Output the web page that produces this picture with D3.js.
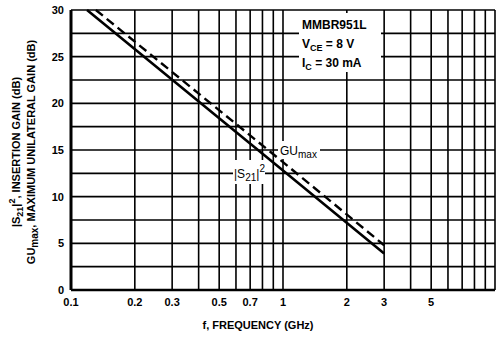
<!DOCTYPE html>
<html>
<head>
<meta charset="utf-8">
<script src="https://cdn.jsdelivr.net/npm/d3@7"></script>
<style>
  body { margin: 0; background: #fff; }
  svg { display: block; }
  text { font-family: "Liberation Sans Narrow", "Arial Narrow", "Liberation Sans", sans-serif; fill: #000; }
</style>
</head>
<body>
<div id="chart"></div>
<script>
// frequency grid (GHz) and labelled ticks
const xGrid = [0.1, 0.2, 0.3, 0.4, 0.5, 0.6, 0.7, 0.8, 0.9, 1, 2, 3, 4, 5, 6, 7, 8, 9, 10];
const xTicks = [0.1, 0.2, 0.3, 0.5, 0.7, 1, 2, 3, 5];
const yGrid = [0, 2.5, 5, 7.5, 10, 12.5, 15, 17.5, 20, 22.5, 25, 27.5, 30];
const yTicks = [0, 5, 10, 15, 20, 25, 30];

// |S21|^2 insertion gain (solid) and GUmax (dashed)
const s21Freq = [0.119, 1, 3];
const s21Gain = [30, 12.8, 3.9];
const guFreq = [0.131, 1, 3];
const guGain = [30, 13.7, 4.8];

const width = 501, height = 338;
const margin = { top: 10, right: 6, bottom: 48, left: 71 };

const svg = d3.select("#chart").append("svg")
    .attr("width", width)
    .attr("height", height);

const x = d3.scaleLog().domain([0.1, 10]).range([margin.left, width - margin.right]);
const y = d3.scaleLinear().domain([0, 30]).range([height - margin.bottom, margin.top]);

// grid
const grid = svg.append("g").attr("stroke", "#000").attr("stroke-width", 1.6);
grid.selectAll(".vx").data(xGrid).enter().append("line")
    .attr("x1", d => x(d)).attr("x2", d => x(d))
    .attr("y1", y(0)).attr("y2", y(30))
    .attr("stroke-width", d => (d === 0.1 ? 3 : 1.6));
grid.selectAll(".hy").data(yGrid).enter().append("line")
    .attr("x1", x(0.1)).attr("x2", x(10))
    .attr("y1", d => y(d)).attr("y2", d => y(d))
    .attr("stroke-width", d => (d === 0 ? 2.4 : 1.6));

// curves
const line = d3.line().x(d => x(d[0])).y(d => y(d[1]));
svg.append("path")
    .datum(s21Freq.map((f, i) => [f, s21Gain[i]]))
    .attr("d", line)
    .attr("fill", "none").attr("stroke", "#000").attr("stroke-width", 2.6);
svg.append("path")
    .datum(guFreq.map((f, i) => [f, guGain[i]]))
    .attr("d", line)
    .attr("fill", "none").attr("stroke", "#000").attr("stroke-width", 2.4)
    .attr("stroke-dasharray", "9,5");

// conditions box (white background hides grid)
svg.append("rect")
    .attr("x", 299).attr("y", 13).attr("width", 82).attr("height", 59)
    .attr("fill", "#fff");
const cond = svg.append("g").attr("font-size", 12).attr("font-weight", "bold");
cond.append("text").attr("x", 302).attr("y", 29).text("MMBR951L");
const vce = cond.append("text").attr("x", 302).attr("y", 48);
vce.append("tspan").text("V");
vce.append("tspan").attr("font-size", 9).attr("dy", 3).text("CE");
vce.append("tspan").attr("dy", -3).text(" = 8 V");
const ic = cond.append("text").attr("x", 302).attr("y", 67);
ic.append("tspan").text("I");
ic.append("tspan").attr("font-size", 9).attr("dy", 3).text("C");
ic.append("tspan").attr("dy", -3).text(" = 30 mA");

// curve labels
svg.append("rect").attr("x", 278).attr("y", 141).attr("width", 42).attr("height", 18).attr("fill", "#fff");
const gu = svg.append("text").attr("x", 280).attr("y", 155).attr("font-size", 12);
gu.append("tspan").text("GU");
gu.append("tspan").attr("font-size", 10).attr("dy", 3).text("max");

svg.append("rect").attr("x", 233).attr("y", 160).attr("width", 32).attr("height", 24).attr("fill", "#fff");
const s21 = svg.append("text").attr("x", 234).attr("y", 178).attr("font-size", 12);
s21.append("tspan").text("|S");
s21.append("tspan").attr("font-size", 10).attr("dy", 3).text("21");
s21.append("tspan").attr("dy", -3).text("|");
s21.append("tspan").attr("font-size", 10).attr("dy", -6).text("2");

// tick labels
svg.append("g").attr("font-size", 11).attr("font-weight", "bold")
    .selectAll("text").data(yTicks).enter().append("text")
    .attr("x", x(0.1) - 7).attr("y", d => y(d) + 4)
    .attr("text-anchor", "end")
    .text(d => d);
svg.append("g").attr("font-size", 11).attr("font-weight", "bold")
    .selectAll("text").data(xTicks).enter().append("text")
    .attr("x", d => x(d)).attr("y", y(0) + 16)
    .attr("text-anchor", "middle")
    .text(d => d);

// axis titles
svg.append("text")
    .attr("x", 258).attr("y", 329)
    .attr("text-anchor", "middle").attr("font-size", 11).attr("font-weight", "bold")
    .text("f, FREQUENCY (GHz)");

const yt1 = svg.append("text")
    .attr("transform", "translate(20,152) rotate(-90)")
    .attr("text-anchor", "middle").attr("font-size", 11).attr("font-weight", "bold");
yt1.append("tspan").text("|S");
yt1.append("tspan").attr("font-size", 9).attr("dy", 3).text("21");
yt1.append("tspan").attr("dy", -3).text("|");
yt1.append("tspan").attr("font-size", 9).attr("dy", -5).text("2");
yt1.append("tspan").attr("dy", 5).text(", INSERTION GAIN (dB)");

const yt2 = svg.append("text")
    .attr("transform", "translate(35,152) rotate(-90)")
    .attr("text-anchor", "middle").attr("font-size", 11).attr("font-weight", "bold");
yt2.append("tspan").text("GU");
yt2.append("tspan").attr("font-size", 10).attr("dy", 3).text("max");
yt2.append("tspan").attr("dy", -3).text(", MAXIMUM UNILATERAL GAIN (dB)");
</script>
</body>
</html>
